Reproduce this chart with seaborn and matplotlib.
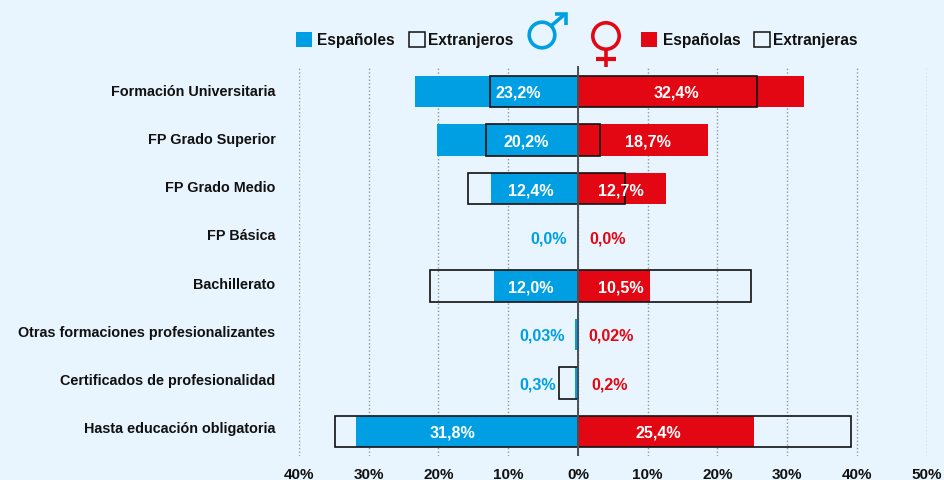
import matplotlib
matplotlib.use("Agg")
import matplotlib.pyplot as plt
from matplotlib.patches import Circle, Rectangle
from matplotlib.transforms import ScaledTranslation
import pandas as pd
import seaborn as sns

categories = ["Formación Universitaria", "FP Grado Superior", "FP Grado Medio", "FP Básica",
              "Bachillerato", "Otras formaciones profesionalizantes",
              "Certificados de profesionalidad", "Hasta educación obligatoria"]
espanoles = [23.3, 20.2, 12.4, 0.0, 12.0, 0.45, 0.4, 31.8]
extranjeros = [12.6, 13.2, 15.7, 0.0, 21.2, 0.0, 2.7, 34.9]
espanolas = [32.4, 18.7, 12.7, 0.0, 10.4, 0.1, 0.1, 25.3]
extranjeras = [25.7, 3.2, 6.8, 0.0, 24.8, 0.0, 0.0, 39.2]
label_m = ["23,2%", "20,2%", "12,4%", "0,0%", "12,0%", "0,03%", "0,3%", "31,8%"]
label_f = ["32,4%", "18,7%", "12,7%", "0,0%", "10,5%", "0,02%", "0,2%", "25,4%"]
label_m_at = [8.5, 7.4, 6.8, 4.2, 6.8, 5.2, 5.8, 18.0]
label_f_at = [14.1, 10.1, 6.1, 4.2, 6.1, 4.8, 4.5, 11.6]
outside_m = [False, False, False, True, False, True, True, False]
ticks = [-40, -30, -20, -10, 0, 10, 20, 30, 40, 50]
tick_labels = ["40%", "30%", "20%", "10%", "0%", "10%", "20%", "30%", "40%", "50%"]
category_lift_px = [2, 3, 3, 4, 3, 4, 4, 5]

BLUE, RED, BG, INK = "#009FE3", "#E30613", "#E8F5FE", "#111111"
W, H = 944, 481

sns.set_theme(style="white")
plt.rcParams["font.family"] = ["Liberation Sans", "DejaVu Sans"]
plt.rcParams["font.weight"] = "bold"

fig = plt.figure(figsize=(W / 100, H / 100), dpi=100, facecolor=BG)
ax = fig.add_axes([299 / W, 1 - 457 / H, (926.5 - 299) / W, (457 - 67) / H], facecolor=BG)

df = pd.DataFrame({"cat": categories,
                   "m": [-v for v in espanoles], "mx": [-v for v in extranjeros],
                   "f": espanolas, "fx": extranjeras})
ax.grid(True, axis="x", linestyle=(0, (1, 1.6)), color="#8f979c", linewidth=1.0)
ax.set_axisbelow(True)
W_BAR = 0.65
for col, c in (("m", BLUE), ("f", RED)):
    sns.barplot(data=df, x=col, y="cat", orient="h", color=c, saturation=1, width=W_BAR,
                linewidth=0, ax=ax)
for col in ("mx", "fx"):
    nz = df[col].where(df[col] != 0)
    sns.barplot(x=nz, y=df["cat"], orient="h", width=W_BAR, fill=False, color=INK,
                linewidth=1.2, ax=ax, err_kws={"linewidth": 0})
ax.axvline(0, color="#4a4f53", lw=1.4, zorder=5)

ax.set_xlim(-40, 50)
ax.set_ylim((457 - 92.5) / 48.57, (67 - 92.5) / 48.57)
ax.set_xticks(ticks)
ax.set_xticklabels(tick_labels, fontsize=11, color=INK, fontweight="bold")
ax.set_yticks(range(len(categories)))
ax.set_yticklabels(categories, fontsize=10.4, color=INK, fontweight="bold")
ax.tick_params(axis="x", length=0, pad=8)
ax.tick_params(axis="y", length=0, pad=17)
for lab, lift in zip(ax.get_yticklabels(), category_lift_px):
    lab.set_transform(lab.get_transform() + ScaledTranslation(0, lift / 100, fig.dpi_scale_trans))
ax.set_xlabel("")
ax.set_ylabel("")
for s in ax.spines.values():
    s.set_visible(False)

for i in range(len(categories)):
    cm = BLUE if outside_m[i] else "white"
    cf = RED if outside_m[i] else "white"
    ax.text(-label_m_at[i], i + 0.02, label_m[i], color=cm, ha="center", va="center",
            fontsize=11.6, fontweight="bold", zorder=6)
    ax.text(label_f_at[i], i + 0.02, label_f[i], color=cf, ha="center", va="center",
            fontsize=11.6, fontweight="bold", zorder=6)

# legend overlay in pixel coordinates
ov = fig.add_axes([0, 0, 1, 1], facecolor="none")
ov.set_xlim(0, W)
ov.set_ylim(H, 0)
ov.axis("off")
for x, fc, ec in [(296, BLUE, "none"), (409, "none", INK), (641, RED, "none"), (754, "none", INK)]:
    ov.add_patch(Rectangle((x, 33), 15.5, 15, facecolor=fc, edgecolor=ec, lw=1.1))
for x, t in [(317, "Españoles"), (428, "Extranjeros"), (663, "Españolas"), (773, "Extranjeras")]:
    ov.text(x, 40.5, t, fontsize=11.2, color=INK, va="center", ha="left", fontweight="bold")

# male symbol
ov.add_patch(Circle((542, 36), 12.8, fill=False, ec=BLUE, lw=2.6))
ov.plot([551, 565], [27, 15], color=BLUE, lw=2.6, solid_capstyle="butt")
ov.plot([555, 566, 566], [15, 15, 26], color=BLUE, lw=2.6, solid_capstyle="butt", solid_joinstyle="miter")
# female symbol
ov.add_patch(Circle((606, 37), 13.2, fill=False, ec=RED, lw=2.6))
ov.plot([606, 606], [50, 68], color=RED, lw=2.6, solid_capstyle="butt")
ov.plot([596, 616], [60, 60], color=RED, lw=3, solid_capstyle="butt")

fig.savefig("out.png", dpi=100, facecolor=BG)
